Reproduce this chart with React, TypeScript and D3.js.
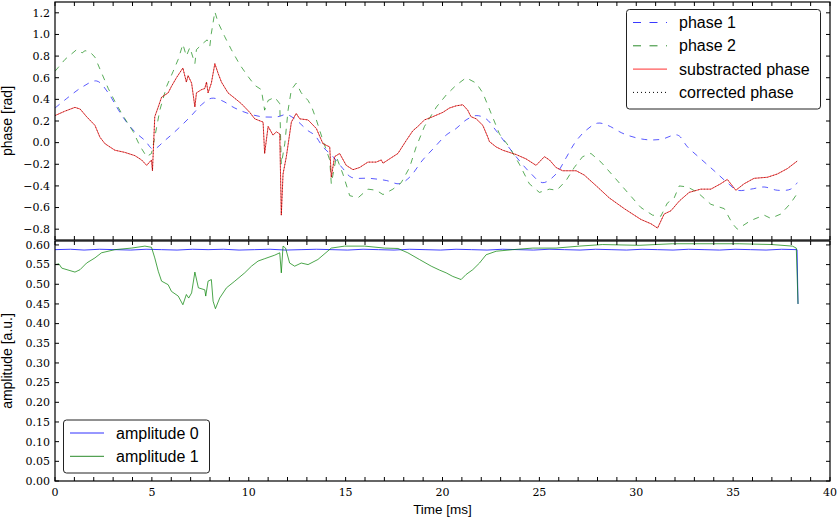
import React from "react";
import * as d3 from "d3";

const phase1: [number, number][] = [
  [0, 0.32], [0.69, 0.42], [1.37, 0.51], [2.15, 0.57], [2.75, 0.46], [3.18, 0.33], [3.61, 0.21], [4.12, 0.1],
  [4.64, 0.02], [5.07, -0.06], [5.67, 0.02], [6.36, 0.13], [7.04, 0.25], [7.56, 0.35], [8.07, 0.41], [8.59, 0.39],
  [9.28, 0.32], [9.97, 0.27], [10.65, 0.24], [11.51, 0.24], [11.94, 0.26], [12.37, 0.22], [13.06, 0.11], [13.4, 0.07],
  [13.83, -0.04], [14.35, -0.13], [14.86, -0.24], [15.29, -0.32], [16.24, -0.33], [17.1, -0.35], [17.78, -0.38],
  [18.3, -0.32], [18.98, -0.16], [19.5, -0.06], [20.19, 0.07], [20.7, 0.13], [21.22, 0.21], [21.74, 0.25], [22.25, 0.22],
  [22.77, 0.11], [23.28, -0.01], [23.8, -0.13], [24.48, -0.27], [25.17, -0.37], [25.86, -0.29], [26.38, -0.14],
  [26.8, -0.01], [27.32, 0.1], [28.0, 0.18], [28.52, 0.16], [29.38, 0.08], [30.41, 0.03], [31.27, 0.03], [32.13, 0.07],
  [32.65, -0.04], [33.33, -0.15], [34.02, -0.26], [34.7, -0.37], [35.22, -0.44], [35.91, -0.43], [36.6, -0.41],
  [37.28, -0.44], [37.97, -0.43], [38.31, -0.37],
];

const phase2: [number, number][] = [
  [0, 0.66], [0.52, 0.77], [1.12, 0.86], [1.4, 0.83], [1.55, 0.85], [1.8, 0.84], [2.06, 0.79], [2.32, 0.68], [2.75, 0.5],
  [3.18, 0.35], [3.61, 0.22], [4.04, 0.1], [4.38, -0.03], [4.73, -0.13], [4.98, -0.1], [5.15, 0.05], [5.41, 0.3],
  [5.76, 0.52], [6.1, 0.66], [6.36, 0.77], [6.6, 0.91], [6.78, 0.8], [6.96, 0.88], [7.22, 0.73], [7.3, 0.86],
  [7.65, 0.92], [7.85, 0.95], [7.99, 0.89], [8.07, 1.01], [8.25, 1.21], [8.42, 1.11], [8.76, 0.98], [9.1, 0.86],
  [9.54, 0.72], [9.97, 0.61], [10.31, 0.53], [10.65, 0.49], [10.82, 0.3], [11.0, 0.39], [11.34, 0.42], [11.6, 0.36],
  [11.68, -0.2], [11.86, -0.01], [12.03, 0.3], [12.2, 0.49], [12.45, 0.55], [12.71, 0.46], [13.06, 0.39], [13.25, 0.33],
  [13.49, 0.21], [13.83, 0.02], [14.18, -0.16], [14.26, -0.38], [14.52, -0.13], [14.86, -0.29], [15.21, -0.49],
  [15.64, -0.51], [16.15, -0.43], [16.58, -0.44], [16.93, -0.48], [17.44, -0.43], [17.87, -0.37], [18.3, -0.23],
  [18.64, -0.04], [19.07, 0.15], [19.69, 0.33], [20.19, 0.44], [20.7, 0.53], [21.22, 0.6], [21.74, 0.55], [22.08, 0.46],
  [22.51, 0.27], [22.94, 0.08], [23.45, -0.04], [23.97, -0.2], [24.48, -0.38], [25.0, -0.46], [25.52, -0.43],
  [25.9, -0.44], [26.38, -0.35], [26.8, -0.23], [27.23, -0.13], [27.66, -0.1], [28.18, -0.18], [28.87, -0.32],
  [29.55, -0.46], [30.24, -0.6], [30.84, -0.67], [31.27, -0.68], [31.6, -0.56], [31.96, -0.51], [32.22, -0.4],
  [32.65, -0.41], [33.16, -0.46], [33.85, -0.57], [34.54, -0.61], [34.97, -0.75], [35.22, -0.8], [35.91, -0.72],
  [36.6, -0.67], [36.94, -0.7], [37.46, -0.66], [37.97, -0.56], [38.31, -0.47],
];

const subtracted: [number, number][] = [
  [0, 0.25], [0.5, 0.29], [1.03, 0.326], [1.3, 0.31], [1.63, 0.24], [2.06, 0.16], [2.32, 0.05], [2.58, -0.01],
  [3.09, -0.07], [3.6, -0.09], [4.12, -0.12], [4.47, -0.16], [4.73, -0.21], [4.98, -0.16], [5.03, -0.26], [5.15, 0.24],
  [5.33, 0.33], [5.5, 0.42], [5.84, 0.46], [6.01, 0.52], [6.27, 0.6], [6.6, 0.69], [6.78, 0.56], [6.87, 0.62],
  [7.05, 0.55], [7.22, 0.33], [7.3, 0.46], [7.56, 0.49], [7.73, 0.5], [7.82, 0.56], [7.9, 0.46], [8.07, 0.55],
  [8.25, 0.73], [8.42, 0.64], [8.59, 0.56], [8.93, 0.46], [9.28, 0.41], [9.62, 0.36], [10.05, 0.28], [10.31, 0.22],
  [10.74, 0.19], [10.82, -0.1], [11.0, 0.15], [11.25, 0.07], [11.43, 0.1], [11.6, 0.08], [11.68, -0.67], [11.77, -0.29],
  [11.94, -0.13], [12.2, 0.19], [12.45, 0.27], [12.63, 0.22], [13.06, 0.21], [13.49, 0.13], [13.83, -0.01],
  [14.18, -0.04], [14.26, -0.32], [14.43, -0.13], [14.69, -0.1], [15.03, -0.21], [15.38, -0.25], [15.72, -0.23],
  [16.15, -0.18], [16.58, -0.18], [16.84, -0.16], [16.93, -0.19], [17.27, -0.15], [17.7, -0.1], [18.13, 0.02],
  [18.47, 0.11], [18.73, 0.15], [19.07, 0.21], [19.5, 0.24], [20.02, 0.28], [20.36, 0.32], [20.7, 0.34], [21.05, 0.35],
  [21.3, 0.3], [21.47, 0.24], [21.74, 0.22], [22.08, 0.16], [22.34, 0.05], [22.42, 0.01], [22.77, -0.04], [23.11, -0.07],
  [23.45, -0.09], [23.8, -0.11], [24.31, -0.15], [24.83, -0.21], [25.26, -0.13], [25.52, -0.16], [25.86, -0.23],
  [26.2, -0.26], [26.55, -0.26], [26.9, -0.26], [27.32, -0.3], [28.0, -0.41], [28.6, -0.51], [29.38, -0.61],
  [30.24, -0.71], [30.76, -0.75], [31.1, -0.79], [31.44, -0.66], [31.79, -0.63], [32.22, -0.54], [32.73, -0.46],
  [33.33, -0.43], [33.85, -0.43], [34.36, -0.38], [34.7, -0.34], [35.14, -0.44], [35.57, -0.38], [36.08, -0.33],
  [36.77, -0.32], [37.28, -0.29], [37.8, -0.24], [38.31, -0.17],
];

const amp0: [number, number][] = [
  [0, 0.588], [0.8, 0.589], [1.5, 0.587], [2.3, 0.589], [3.1, 0.588], [3.9, 0.587], [4.7, 0.589], [5.5, 0.588],
  [6.3, 0.587], [7.1, 0.589], [7.9, 0.588], [8.7, 0.589], [9.5, 0.587], [10.3, 0.588], [11.1, 0.589], [11.9, 0.587],
  [12.7, 0.588], [13.5, 0.589], [14.3, 0.588], [15.1, 0.587], [15.9, 0.589], [16.7, 0.588], [17.5, 0.587],
  [18.3, 0.589], [19.1, 0.588], [19.9, 0.587], [20.7, 0.589], [21.5, 0.588], [22.3, 0.587], [23.1, 0.589],
  [23.9, 0.588], [24.7, 0.587], [25.5, 0.589], [26.3, 0.588], [27.1, 0.587], [27.9, 0.589], [28.7, 0.588],
  [29.5, 0.587], [30.3, 0.589], [31.1, 0.588], [31.9, 0.587], [32.7, 0.589], [33.5, 0.588], [34.3, 0.587],
  [35.1, 0.589], [35.9, 0.588], [36.7, 0.587], [37.5, 0.589], [38.3, 0.588], [38.35, 0.45],
];

const amp1: [number, number][] = [
  [0, 0.55], [0.2, 0.552], [0.35, 0.541], [1.03, 0.531], [1.29, 0.537], [1.63, 0.554], [2.06, 0.567], [2.4, 0.58],
  [3.09, 0.588], [3.95, 0.592], [4.64, 0.597], [4.98, 0.594], [5.15, 0.567], [5.33, 0.533], [5.5, 0.508], [5.84, 0.499],
  [6.01, 0.482], [6.36, 0.47], [6.6, 0.448], [6.78, 0.474], [6.9, 0.465], [7.05, 0.478], [7.22, 0.531], [7.4, 0.491],
  [7.73, 0.486], [7.78, 0.47], [7.9, 0.508], [8.07, 0.512], [8.16, 0.457], [8.28, 0.438], [8.5, 0.465], [8.85, 0.491],
  [9.28, 0.508], [9.79, 0.529], [10.14, 0.546], [10.48, 0.559], [10.82, 0.565], [11.34, 0.574], [11.6, 0.58],
  [11.68, 0.529], [11.77, 0.597], [11.9, 0.592], [12.11, 0.554], [12.37, 0.546], [12.71, 0.554], [13.06, 0.55],
  [13.57, 0.563], [14.26, 0.592], [14.95, 0.597], [15.98, 0.597], [17.01, 0.592], [17.7, 0.591], [18.21, 0.58],
  [18.81, 0.563], [19.42, 0.546], [19.85, 0.536], [20.19, 0.529], [20.53, 0.52], [20.96, 0.512], [21.22, 0.525],
  [21.56, 0.537], [21.91, 0.554], [22.25, 0.575], [22.77, 0.584], [23.63, 0.588], [24.66, 0.592], [25.86, 0.592],
  [27.06, 0.597], [28.26, 0.601], [30.15, 0.599], [31.87, 0.603], [33.6, 0.603], [35.31, 0.603], [37.0, 0.601],
  [38.06, 0.597], [38.26, 0.592], [38.35, 0.45],
];

const xTickLabels = [0, 5, 10, 15, 20, 25, 30, 35, 40];
const phaseTicks = [-0.8, -0.6, -0.4, -0.2, 0, 0.2, 0.4, 0.6, 0.8, 1.0, 1.2];
const ampTicks = [0, 0.05, 0.1, 0.15, 0.2, 0.25, 0.3, 0.35, 0.4, 0.45, 0.5, 0.55, 0.6];
const phaseLegend = ["phase 1", "phase 2", "substracted phase", "corrected phase"];
const ampLegend = ["amplitude 0", "amplitude 1"];

const W = 837, H = 519;
const L = 55, R = 830;
const topPanel = { t: 2, b: 240 };
const botPanel = { t: 241, b: 481 };
const serif = "'DejaVu Serif', serif";
const sans = "'Liberation Sans', Arial, sans-serif";

const fmtMinus = (s: string) => s.replace("-", "\u2212");

export default function App() {
  const x = d3.scaleLinear().domain([0, 40]).range([L, R]);
  const yP = d3.scaleLinear().domain([-0.9, 1.3]).range([topPanel.b, topPanel.t]);
  const yA = d3.scaleLinear().domain([0, 0.61]).range([botPanel.b, botPanel.t]);

  const lineP = d3.line<[number, number]>().x((d) => x(d[0])).y((d) => yP(d[1]));
  const lineA = d3.line<[number, number]>().x((d) => x(d[0])).y((d) => yA(d[1]));
  const lineSmooth = d3.line<[number, number]>().x((d) => x(d[0])).y((d) => yP(d[1])).curve(d3.curveCatmullRom);

  const minorX = d3.range(0, 41, 1);

  const panelTicks = (p: { t: number; b: number }, yScale: d3.ScaleLinear<number, number>, yt: number[]) => (
    <g stroke="#000" strokeWidth={1}>
      {minorX.map((v) => (
        <g key={"x" + v}>
          <line x1={x(v)} x2={x(v)} y1={p.t} y2={p.t + 4} />
          <line x1={x(v)} x2={x(v)} y1={p.b} y2={p.b - 4} />
        </g>
      ))}
      {yt.map((v) => (
        <g key={"y" + v}>
          <line x1={L} x2={L + 4} y1={yScale(v)} y2={yScale(v)} />
          <line x1={R} x2={R - 4} y1={yScale(v)} y2={yScale(v)} />
        </g>
      ))}
    </g>
  );

  const legendRow = (i: number, x0: number, y0: number, label: string, kind: string) => {
    const yy = y0 + 13 + i * 23.3;
    let sample: React.ReactNode = null;
    if (kind === "b-dash") sample = <line x1={x0 + 6.5} x2={x0 + 40.5} y1={yy} y2={yy} stroke="#3a3aff" strokeDasharray="8,8.5" />;
    if (kind === "g-dash") sample = <line x1={x0 + 6.5} x2={x0 + 40.5} y1={yy} y2={yy} stroke="#2a8a2a" strokeDasharray="8,8.5" />;
    if (kind === "r") sample = <line x1={x0 + 6.5} x2={x0 + 40.5} y1={yy} y2={yy} stroke="#ff3030" />;
    if (kind === "k-dot") sample = <line x1={x0 + 6.5} x2={x0 + 40.5} y1={yy} y2={yy} stroke="#000" strokeDasharray="1,3" />;
    if (kind === "b") sample = <line x1={x0 + 6.5} x2={x0 + 40.5} y1={yy} y2={yy} stroke="#3030ff" />;
    if (kind === "g") sample = <line x1={x0 + 6.5} x2={x0 + 40.5} y1={yy} y2={yy} stroke="#2a8a2a" />;
    return (
      <g key={label}>
        {sample}
        <text x={x0 + 52.5} y={yy} dy="0.35em" fontFamily={sans} fontSize={16}>{label}</text>
      </g>
    );
  };

  return (
    <svg width={W} height={H} style={{ position: "absolute", left: 0, top: 0, background: "#fff" }}>
      <defs>
        <clipPath id="clipTop"><rect x={L} y={topPanel.t} width={R - L} height={topPanel.b - topPanel.t} /></clipPath>
        <clipPath id="clipBot"><rect x={L} y={botPanel.t} width={R - L} height={botPanel.b - botPanel.t} /></clipPath>
      </defs>
      <rect width={W} height={H} fill="#fff" />

      {/* Top panel */}
      <g clipPath="url(#clipTop)" fill="none">
        <path d={lineSmooth(phase1) || ""} stroke="#0000ff" strokeOpacity={0.65} strokeWidth={1} strokeDasharray="6,6" />
        <path d={lineP(phase2) || ""} stroke="#008000" strokeOpacity={0.65} strokeWidth={1} strokeDasharray="6,6" />
        <path d={lineP(subtracted) || ""} stroke="#ff0000" strokeOpacity={0.7} strokeWidth={1} />
        <path d={lineP(subtracted) || ""} stroke="#000" strokeOpacity={0.8} strokeWidth={0.6} strokeDasharray="1,2" />
      </g>
      {panelTicks(topPanel, yP, phaseTicks)}
      <rect x={L} y={topPanel.t} width={R - L} height={topPanel.b - topPanel.t} fill="none" stroke="#000" strokeWidth={1.2} />
      {phaseTicks.map((v) => (
        <text key={v} x={L - 5} y={yP(v)} dy="0.35em" textAnchor="end" fontFamily={serif} fontSize={11}>
          {fmtMinus(v.toFixed(1))}
        </text>
      ))}
      <text transform={`translate(12,${(topPanel.t + topPanel.b) / 2}) rotate(-90)`} textAnchor="middle" fontFamily={sans} fontSize={14}>
        phase [rad]
      </text>
      <g>
        <rect x={626.5} y={9.5} width={194} height={99.5} rx={3} fill="#fff" stroke="#222" strokeWidth={1} />
        {legendRow(0, 626.5, 9.5, phaseLegend[0], "b-dash")}
        {legendRow(1, 626.5, 9.5, phaseLegend[1], "g-dash")}
        {legendRow(2, 626.5, 9.5, phaseLegend[2], "r")}
        {legendRow(3, 626.5, 9.5, phaseLegend[3], "k-dot")}
      </g>

      {/* Bottom panel */}
      <g clipPath="url(#clipBot)" fill="none">
        <path d={lineA(amp0) || ""} stroke="#0000ff" strokeOpacity={0.75} strokeWidth={1} />
        <path d={lineA(amp1) || ""} stroke="#008000" strokeOpacity={0.7} strokeWidth={1} />
      </g>
      {panelTicks(botPanel, yA, ampTicks)}
      <rect x={L} y={botPanel.t} width={R - L} height={botPanel.b - botPanel.t} fill="none" stroke="#000" strokeWidth={1.2} />
      {ampTicks.map((v) => (
        <text key={v} x={L - 5} y={yA(v)} dy="0.35em" textAnchor="end" fontFamily={serif} fontSize={11}>
          {v.toFixed(2)}
        </text>
      ))}
      {xTickLabels.map((v) => (
        <text key={v} x={x(v)} y={496} textAnchor="middle" fontFamily={serif} fontSize={11}>
          {v}
        </text>
      ))}
      <text transform={`translate(12,${(botPanel.t + botPanel.b) / 2}) rotate(-90)`} textAnchor="middle" fontFamily={sans} fontSize={14}>
        amplitude [a.u.]
      </text>
      <text x={(L + R) / 2} y={514} textAnchor="middle" fontFamily={sans} fontSize={13.5}>
        Time [ms]
      </text>
      <g>
        <rect x={63.5} y={420} width={146} height={53} rx={3} fill="#fff" stroke="#222" strokeWidth={1} />
        {legendRow(0, 63.5, 420, ampLegend[0], "b")}
        {legendRow(1, 63.5, 420, ampLegend[1], "g")}
      </g>
    </svg>
  );
}
